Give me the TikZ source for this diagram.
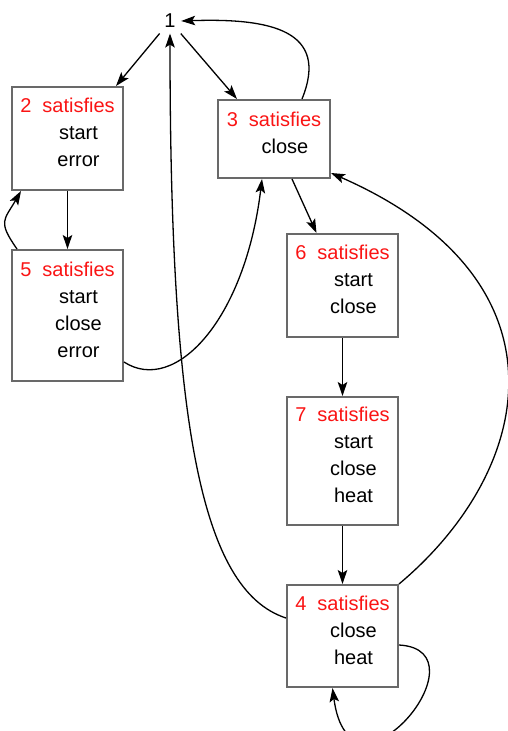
\documentclass[tikz,border=0pt]{standalone}
\usepackage{xcolor}
\usepackage{fontspec}
\setmainfont{Liberation Sans}
\usepackage{tikz}
\usetikzlibrary{arrows.meta}

\definecolor{boxgray}{RGB}{105,105,105}
\definecolor{satred}{RGB}{250,20,20}

\newcommand{\sat}[1]{\textcolor{satred}{#1\ \ satisfies}}
\newcommand{\prop}[1]{\hspace*{22pt}#1}

\begin{document}
\begin{tikzpicture}[x=1pt,y=-1pt,>={Stealth[length=14pt,width=9.5pt,inset=3pt]},
    line width=1.3pt,
    state/.style={draw=boxgray, line width=2pt, minimum width=111pt,
        align=center, text depth=12pt,
        font=\fontsize{20pt}{27pt}\selectfont}]

    \useasboundingbox (0,0) rectangle (508,731);

    % -- Initial state --
    \node[font=\fontsize{20pt}{24pt}\selectfont, inner sep=5pt] (n1) at (170,21) {1};

    % Left column
    \node[state, minimum height=103pt] (b2) at (67.5,138.5)
        {\sat{2}\\\prop{start}\\\prop{error}};
    \node[state, minimum height=131pt] (b5) at (67.5,315.5)
        {\sat{5}\\\prop{start}\\\prop{close}\\\prop{error}};

    % Middle box
    \node[state, minimum width=112pt, minimum height=78pt] (b3) at (274,139)
        {\sat{3}\\\prop{close}};

    % Right column
    \node[state, minimum height=103pt] (b6) at (342.5,285.5)
        {\sat{6}\\\prop{start}\\\prop{close}};
    \node[state, minimum height=128pt] (b7) at (342.5,461)
        {\sat{7}\\\prop{start}\\\prop{close}\\\prop{heat}};
    \node[state, minimum height=102pt] (b4) at (342.5,636)
        {\sat{4}\\\prop{close}\\\prop{heat}};

    % -- Transitions --
    \draw[->] (n1) -- ([xshift=-8pt]b2.north east);
    \draw[->] (n1) -- ([xshift=20pt]b3.north west);
    \draw[->] ([xshift=28pt]b3.north) .. controls (330,30) and (270,18) .. (n1.east);

    \draw[->] (b2.south) -- (b5.north);
    \draw[->] ([xshift=6pt]b5.north west) to[out=125,in=240,looseness=1.5]
        ([xshift=10pt]b2.south west);
    \draw[->] ([yshift=-46.5pt]b5.east) .. controls (175,395) and (245,320) ..
        ([xshift=-12pt]b3.south);

    \draw[->] ([xshift=18pt]b3.south) -- ([xshift=-26pt]b6.north);
    \draw[->] (b6.south) -- (b7.north);
    \draw[->] (b7.south) -- (b4.north);

    % back edges from 4
    \draw[->] ([yshift=18pt]b4.west) .. controls (200,590) and (170,420) .. (n1.south);
    \draw[->] (b4.north east) .. controls (535,470) and (575,280) ..
        ([yshift=6pt]b3.south east);
    \draw[->] ([yshift=-9pt]b4.east) .. controls (490,650) and (350,820) ..
        ([xshift=-10pt]b4.south);

\end{tikzpicture}
\end{document}
